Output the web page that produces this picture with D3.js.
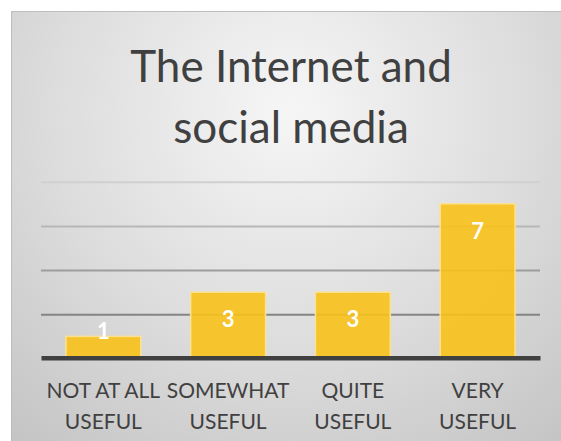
<!DOCTYPE html>
<html>
<head>
<meta charset="utf-8">
<script src="https://cdn.jsdelivr.net/npm/d3@7"></script>
<style>
  html, body { margin: 0; padding: 0; background: #ffffff; }
  svg { display: block; }
</style>
</head>
<body>
<script>
// Survey answers: how useful respondents found the Internet and social media
const titleLines = ["The Internet and", "social media"];
const categories = ["NOT AT ALL USEFUL", "SOMEWHAT USEFUL", "QUITE USEFUL", "VERY USEFUL"];
const values = [1, 3, 3, 7];
const gridTicks = [2, 4, 6, 8];
const yMax = 8;

const W = 561, H = 441;
const svg = d3.select("body").append("svg").attr("width", W).attr("height", H);

// soft radial backdrop of the chart area
const defs = svg.append("defs");
const grad = defs.append("radialGradient")
  .attr("id", "bg").attr("gradientUnits", "userSpaceOnUse")
  .attr("cx", 290).attr("cy", 110).attr("r", 440);
grad.append("stop").attr("offset", 0).attr("stop-color", "#f6f6f6");
grad.append("stop").attr("offset", 0.55).attr("stop-color", "#dcdcdc");
grad.append("stop").attr("offset", 1).attr("stop-color", "#c3c3c3");

svg.append("rect").attr("x", 11.5).attr("y", 11.5).attr("width", W).attr("height", H)
  .attr("fill", "url(#bg)").attr("stroke", "#bdbdbd").attr("stroke-width", 1);

const font = "Lato, 'Open Sans', sans-serif";

// title
svg.append("g").selectAll("text").data(titleLines).join("text")
  .attr("x", 291).attr("y", (d, i) => 82 + i * 61)
  .attr("text-anchor", "middle")
  .attr("font-family", font).attr("font-size", 44)
  .attr("fill", "#404040")
  .text(d => d);

const x = d3.scaleBand().domain(categories).range([41, 540])
  .paddingInner(0.4).paddingOuter(0.2);
const y = d3.scaleLinear().domain([0, yMax]).range([358.5, 181.7]);

// horizontal gridlines, fading toward the top
const gridShade = d3.scaleLinear().domain([2, 8]).range(["#848484", "#d0d0d0"]);
const grid = svg.append("g").attr("transform", "translate(41,0)")
  .call(d3.axisLeft(y).tickValues(gridTicks).tickSize(-(540 - 41)).tickFormat(""));
grid.select(".domain").remove();
grid.selectAll(".tick line")
  .attr("stroke", d => gridShade(d)).attr("stroke-width", 2);

// bars
svg.append("g").selectAll("rect").data(values).join("rect")
  .attr("x", (d, i) => x(categories[i]))
  .attr("y", d => y(d))
  .attr("width", x.bandwidth())
  .attr("height", d => y(0) - y(d))
  .attr("fill", "#f8c11a").attr("fill-opacity", 0.9)
  .attr("stroke", "#fce290").attr("stroke-width", 1.5);

// value labels
svg.append("g").selectAll("text").data(values).join("text")
  .attr("x", (d, i) => x(categories[i]) + x.bandwidth() / 2)
  .attr("y", d => Math.min(y(d) + 35, y(0) - 20))
  .attr("text-anchor", "middle")
  .attr("font-family", font).attr("font-weight", "bold").attr("font-size", 22)
  .attr("fill", "#ffffff")
  .text(d => d);

// category axis
const xAxis = svg.append("g").attr("transform", "translate(0,357.7)")
  .call(d3.axisBottom(x).tickSize(0).tickFormat(""));
xAxis.select(".domain").attr("stroke", "#404040").attr("stroke-width", 4.6);

const labels = svg.append("g").selectAll("text").data(categories).join("text")
  .attr("text-anchor", "middle")
  .attr("font-family", font).attr("font-size", 21)
  .attr("fill", "#404040");
labels.each(function (d) {
  const cut = d.lastIndexOf(" ");
  const lines = [d.slice(0, cut), d.slice(cut + 1)];
  d3.select(this).selectAll("tspan").data(lines).join("tspan")
    .attr("x", x(d) + x.bandwidth() / 2)
    .attr("y", (l, i) => 398.3 + i * 31)
    .text(l => l);
});
</script>
</body>
</html>
